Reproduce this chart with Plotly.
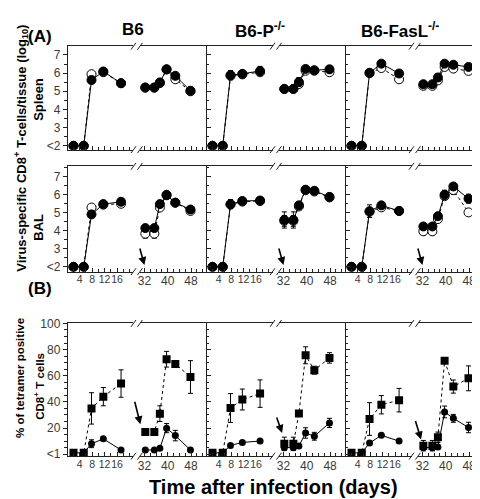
import plotly.graph_objects as go

W, H = 480, 499

# ---------------- data ----------------
DAYS = [2, 5.3, 7.8, 11.6, 17.3, 32.3, 35.4, 37.3, 39.6, 42.6, 47.8]
N_EARLY = 5

COLUMN_TITLES = ["B6", "B6-P<sup>-/-</sup>", "B6-FasL<sup>-/-</sup>"]

# Row A: spleen (log10)
SPL_B6_FILLED = [2.0, 2.0, 5.62, 6.09, 5.44, 5.21, 5.21, 5.49, 6.21, 5.85, 5.03]
SPL_B6_FILLED_ERR = [0, 0, 0.06, 0.15, 0.05, 0.05, 0.05, 0.08, 0.05, 0.06, 0.15]
SPL_B6_OPEN = [2.0, 2.0, 5.94, 6.05, 5.45, 5.2, 5.2, 5.45, 6.2, 5.66, 5.0]
SPL_B6_OPEN_ERR = [0, 0, 0.05, 0.1, 0.05, 0.05, 0.05, 0.05, 0.05, 0.05, 0.1]

SPL_P_FILLED = [2.0, 2.0, 5.89, 5.96, 6.12, 5.13, 5.13, 5.51, 6.23, 6.16, 6.21]
SPL_P_FILLED_ERR = [0, 0, 0.25, 0.05, 0.25, 0.05, 0.05, 0.25, 0.05, 0.05, 0.2]
SPL_P_OPEN = [2.0, 2.0, 5.85, 5.93, 6.05, 5.13, 5.13, 5.4, 6.13, 6.13, 6.05]
SPL_P_OPEN_ERR = [0, 0, 0.1, 0.05, 0.1, 0.05, 0.05, 0.1, 0.05, 0.05, 0.15]

SPL_FAS_FILLED = [2.0, 2.0, 6.02, 6.52, 5.98, 5.39, 5.39, 5.76, 6.52, 6.46, 6.34]
SPL_FAS_FILLED_ERR = [0, 0, 0.1, 0.05, 0.05, 0.05, 0.05, 0.2, 0.05, 0.05, 0.05]
SPL_FAS_OPEN = [2.0, 2.0, 6.0, 6.28, 5.66, 5.3, 5.3, 5.6, 6.34, 6.25, 6.12]
SPL_FAS_OPEN_ERR = [0, 0, 0.05, 0.05, 0.05, 0.05, 0.05, 0.1, 0.05, 0.05, 0.05]

# Row A: BAL (log10)
BAL_B6_FILLED = [2.0, 2.0, 4.91, 5.48, 5.61, 4.15, 4.15, 5.48, 5.97, 5.56, 5.18]
BAL_B6_FILLED_ERR = [0, 0, 0.2, 0.1, 0.15, 0.05, 0.05, 0.1, 0.2, 0.1, 0.05]
BAL_B6_OPEN = [2.0, 2.0, 5.29, 5.45, 5.5, 3.84, 3.84, 5.29, 6.0, 5.56, 5.1]
BAL_B6_OPEN_ERR = [0, 0, 0.1, 0.2, 0.1, 0.25, 0.25, 0.1, 0.1, 0.1, 0.05]

BAL_P_FILLED = [2.0, 2.0, 5.48, 5.65, 5.68, 4.6, 4.6, 5.41, 6.28, 6.22, 5.88]
BAL_P_FILLED_ERR = [0, 0, 0.25, 0.05, 0.1, 0.45, 0.45, 0.2, 0.05, 0.08, 0.2]
BAL_P_OPEN = [2.0, 2.0, 5.45, 5.62, 5.65, 4.55, 4.55, 5.35, 6.25, 6.18, 5.85]
BAL_P_OPEN_ERR = [0, 0, 0.1, 0.05, 0.1, 0.3, 0.3, 0.1, 0.05, 0.05, 0.1]

BAL_FAS_FILLED = [2.0, 2.0, 5.09, 5.41, 5.1, 4.24, 4.24, 4.81, 6.0, 6.46, 5.78]
BAL_FAS_FILLED_ERR = [0, 0, 0.35, 0.05, 0.05, 0.15, 0.15, 0.1, 0.25, 0.15, 0.25]
BAL_FAS_OPEN = [2.0, 2.0, 5.05, 5.3, 5.1, 3.97, 3.97, 4.65, 5.92, 6.26, 5.02]
BAL_FAS_OPEN_ERR = [0, 0, 0.1, 0.05, 0.05, 0.2, 0.2, 0.1, 0.15, 0.25, 0.05]

# Row B: % tetramer positive CD8+ T cells
TET_B6_SQ = [1, 1, 35, 44, 54, 17, 17, 31, 72.6, 69, 59]
TET_B6_SQ_ERR = [0, 0, 12, 7, 10.5, 0, 0, 6, 6, 2.5, 12.5]
TET_B6_CI = [1, 1, 8, 11.7, 3.2, 3.2, 3.2, 4.5, 19.9, 14.2, 3.2]
TET_B6_CI_ERR = [0, 0, 3, 1, 1, 0.5, 0.5, 0.5, 3.5, 4, 1]

TET_P_SQ = [1, 1, 35.3, 41.8, 46.3, 8, 8, 31.1, 75.6, 64.2, 73.6]
TET_P_SQ_ERR = [0, 0, 11, 8, 10.5, 5, 5, 0, 6.5, 3, 4]
TET_P_CI = [1, 1, 6.7, 9, 10, 5, 5, 6.2, 16.2, 13.7, 23.9]
TET_P_CI_ERR = [0, 0, 1, 1, 1, 1, 1, 1, 4, 3, 3.5]

TET_FAS_SQ = [1, 1, 26.9, 37.8, 41.3, 6.5, 6.5, 12.9, 71.4, 51.7, 58]
TET_FAS_SQ_ERR = [0, 0, 12.5, 7, 9, 4, 4, 4, 2, 5, 9.5]
TET_FAS_CI = [1, 1, 8.5, 14.4, 10, 5, 5, 5.5, 32.3, 27.4, 20.4]
TET_FAS_CI_ERR = [0, 0, 1, 1, 1, 1, 1, 1, 4.5, 3, 4]

# ticks
Y_TICKS_LOG = [2, 3, 4, 5, 6, 7]
Y_TICKTEXT_LOG = ["<2", "3", "4", "5", "6", "7"]
Y_TICKS_PCT = [0, 20, 40, 60, 80, 100]
Y_TICKTEXT_PCT = ["<1", "20", "40", "60", "80", "100"]
X_TICKS_EARLY = [4, 8, 12, 16]
X_TICKS_LATE = [32, 40, 48]

# arrows (re-infection), per column: (x day, y value, ax px, ay px)
BAL_ARROWS = [(32, 2.1, -5, -18), (32, 2.1, -5, -18), (32, 2.1, -5, -18)]
TET_ARROWS = [(30.6, 22.9, -6, -24), (31.55, 16.2, -6, -17), (31.5, 11.2, -6, -20)]

# ---------------- layout geometry ----------------
COL_LEFT_PX = [58, 197.6, 337.2]
SEG1_W = 66
SEG2_START = 72.5
COL_W = 139.6
ROW_PX = [(32, 138), (155, 263), (316, 452)]
X_RANGE_EARLY = [0.16, 21.3]
X_RANGE_LATE = [30.46, 53.4]
Y_RANGES = [[1.785, 7.48], [1.73, 7.58], [-1.5, 100]]

FONT = "Liberation Sans, Arial, sans-serif"
TICKCOL = "#3a3a3a"
AXCOL = "#222222"


def px2x(px):
    return px / W


def py2y(py):
    return 1 - py / H


row_series = [
    [  # spleen
        (SPL_B6_OPEN, SPL_B6_OPEN_ERR, SPL_B6_FILLED, SPL_B6_FILLED_ERR),
        (SPL_P_OPEN, SPL_P_OPEN_ERR, SPL_P_FILLED, SPL_P_FILLED_ERR),
        (SPL_FAS_OPEN, SPL_FAS_OPEN_ERR, SPL_FAS_FILLED, SPL_FAS_FILLED_ERR),
    ],
    [  # BAL
        (BAL_B6_OPEN, BAL_B6_OPEN_ERR, BAL_B6_FILLED, BAL_B6_FILLED_ERR),
        (BAL_P_OPEN, BAL_P_OPEN_ERR, BAL_P_FILLED, BAL_P_FILLED_ERR),
        (BAL_FAS_OPEN, BAL_FAS_OPEN_ERR, BAL_FAS_FILLED, BAL_FAS_FILLED_ERR),
    ],
    [  # tetramer
        (TET_B6_CI, TET_B6_CI_ERR, TET_B6_SQ, TET_B6_SQ_ERR),
        (TET_P_CI, TET_P_CI_ERR, TET_P_SQ, TET_P_SQ_ERR),
        (TET_FAS_CI, TET_FAS_CI_ERR, TET_FAS_SQ, TET_FAS_SQ_ERR),
    ],
]

fig = go.Figure()
layout = {}
shapes = []
annotations = []


def ax_id(prefix, idx):
    return prefix if idx == 1 else f"{prefix}{idx}"


def err(arr):
    return dict(type="data", array=arr, visible=True, color="black",
                thickness=1, width=2.5)


for r in range(3):
    top, bot = ROW_PX[r]
    ydom = [py2y(bot), py2y(top)]
    for c in range(3):
        L = COL_LEFT_PX[c]
        for s in range(2):
            idx = r * 6 + c * 2 + s + 1
            if s == 0:
                xdom = [px2x(L), px2x(L + SEG1_W)]
                xr, tv = X_RANGE_EARLY, X_TICKS_EARLY
                sl = slice(0, N_EARLY)
                xfs = 10.5
            else:
                xdom = [px2x(L + SEG2_START), px2x(L + COL_W)]
                xr, tv = X_RANGE_LATE, X_TICKS_LATE
                sl = slice(N_EARLY, None)
                xfs = 12
            xa = ax_id("xaxis", idx)
            ya = ax_id("yaxis", idx)
            xref = ax_id("x", idx)
            yref = ax_id("y", idx)
            layout[xa] = dict(
                domain=xdom, range=xr, anchor=yref, showline=True,
                linecolor=AXCOL, linewidth=1, mirror=True,
                ticks="inside", ticklen=4, tickcolor=AXCOL, tickwidth=1,
                tickmode="array", tickvals=tv, ticktext=[str(v) for v in tv],
                showticklabels=(r > 0), tickangle=0, ticklabelstandoff=-2,
                tickfont=dict(family=FONT, size=xfs, color=TICKCOL),
                showgrid=False, zeroline=False,
                minor=dict(ticks="inside", ticklen=3, tickcolor=AXCOL,
                           tickmode="linear", tick0=0, dtick=2, showgrid=False),
            )
            if r < 2:
                ytv, ytt, mdt = Y_TICKS_LOG, Y_TICKTEXT_LOG, 0.5
            else:
                ytv, ytt, mdt = Y_TICKS_PCT, Y_TICKTEXT_PCT, 5
            ycfg = dict(
                domain=ydom, range=Y_RANGES[r], anchor=xref,
                tickmode="array", tickvals=ytv, ticktext=ytt,
                tickfont=dict(family=FONT, size=12, color=TICKCOL),
                showgrid=False, zeroline=False,
                linecolor=AXCOL, linewidth=1, tickcolor=AXCOL,
            )
            minor = dict(ticklen=2.5, tickcolor=AXCOL, tickmode="linear",
                         tick0=ytv[0], dtick=mdt, showgrid=False)
            if s == 0 and c == 0:
                ycfg.update(showline=True, ticks="outside", ticklen=4,
                            showticklabels=True,
                            minor=dict(minor, ticks="outside"))
            elif s == 0:
                ycfg.update(showline=True, ticks="inside", ticklen=4,
                            showticklabels=False,
                            minor=dict(minor, ticks="inside"))
            elif c == 2:
                ycfg.update(showline=True, side="right", ticks="inside",
                            ticklen=4, showticklabels=False,
                            minor=dict(minor, ticks="inside"))
            else:
                ycfg.update(visible=False)
            layout[ya] = ycfg

            back, back_err, front, front_err = row_series[r][c]
            xs = DAYS[sl]
            if r < 2:
                fig.add_trace(go.Scatter(
                    x=xs, y=back[sl], xaxis=xref, yaxis=yref, mode="lines+markers",
                    line=dict(color="black", width=1, dash="dot"),
                    marker=dict(symbol="circle", size=9, color="white",
                                line=dict(color="black", width=1)),
                    error_y=err(back_err[sl]), showlegend=False, hoverinfo="skip"))
                fig.add_trace(go.Scatter(
                    x=xs, y=front[sl], xaxis=xref, yaxis=yref, mode="lines+markers",
                    line=dict(color="black", width=1),
                    marker=dict(symbol="circle", size=9, color="black",
                                line=dict(color="black", width=1)),
                    error_y=err(front_err[sl]), showlegend=False, hoverinfo="skip"))
            else:
                fig.add_trace(go.Scatter(
                    x=xs, y=back[sl], xaxis=xref, yaxis=yref, mode="lines+markers",
                    line=dict(color="black", width=1),
                    marker=dict(symbol="circle", size=7, color="black"),
                    error_y=err(back_err[sl]), showlegend=False, hoverinfo="skip"))
                fig.add_trace(go.Scatter(
                    x=xs, y=front[sl], xaxis=xref, yaxis=yref, mode="lines+markers",
                    line=dict(color="black", width=1, dash="dot"),
                    marker=dict(symbol="square", size=8, color="black"),
                    error_y=err(front_err[sl]), showlegend=False, hoverinfo="skip"))

        # axis-break marks
        for bx in (L + SEG1_W, L + SEG2_START):
            for by in (top, bot):
                shapes.append(dict(
                    type="line", xref="paper", yref="paper",
                    x0=px2x(bx - 2.5), y0=py2y(by + 3.5),
                    x1=px2x(bx + 2.5), y1=py2y(by - 3.5),
                    line=dict(color=AXCOL, width=1)))

        # re-infection arrows
        if r >= 1:
            ax_, ay_, dx, dy = (BAL_ARROWS if r == 1 else TET_ARROWS)[c]
            idx2 = r * 6 + c * 2 + 2
            annotations.append(dict(
                x=ax_, y=ay_, xref=ax_id("x", idx2), yref=ax_id("y", idx2),
                ax=dx, ay=dy, showarrow=True, arrowhead=2, arrowsize=1,
                arrowwidth=1.6, arrowcolor="black", text="", standoff=0))

# column titles
TITLE_X_PX = [124, 251, 392]
for c in range(3):
    annotations.append(dict(
        x=px2x(TITLE_X_PX[c]), y=py2y(15), xref="paper", yref="paper",
        text=f"<b>{COLUMN_TITLES[c]}</b>", showarrow=False,
        xanchor="center", yanchor="middle",
        font=dict(family=FONT, size=17, color="black")))

texts = [
    ("<b>(A)</b>", 30, 22, 0, 17),
    ("<b>(B)</b>", 30, 280, 0, 17),
    ("<b>Virus-specific CD8<sup>+</sup> T-cells/tissue (log<sub>10</sub>)</b>", 11, 136, -90, 13),
    ("<b>Spleen</b>", 29, 86, -90, 13),
    ("<b>BAL</b>", 29, 217, -90, 13),
    ("<b>% of tetramer positive</b>", 10, 372, -90, 11.5),
    ("<b>CD8<sup>+</sup> T cells</b>", 29, 380, -90, 11.5),
    ("<b>Time after infection (days)</b>", 265, 484, 0, 20),
]
for t, x, y, ang, sz in texts:
    annotations.append(dict(
        x=px2x(x), y=py2y(y), xref="paper", yref="paper", text=t,
        showarrow=False, textangle=ang, xanchor="center", yanchor="middle",
        font=dict(family=FONT, size=sz, color="black")))

fig.update_layout(
    width=W, height=H, margin=dict(l=0, r=0, t=0, b=0),
    paper_bgcolor="white", plot_bgcolor="white",
    showlegend=False, shapes=shapes, annotations=annotations,
    **layout,
)

fig.write_html("out.html")
